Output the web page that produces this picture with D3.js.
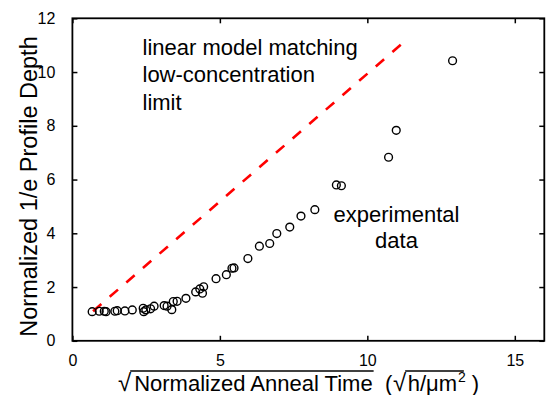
<!DOCTYPE html>
<html>
<head>
<meta charset="utf-8">
<script src="https://cdn.jsdelivr.net/npm/d3@7"></script>
<style>
  html, body { margin: 0; padding: 0; background: #fff; }
  svg { display: block; font-family: "Liberation Sans", Arial, Helvetica, sans-serif; }
</style>
</head>
<body>
<svg id="chart" width="546" height="395"></svg>
<script>
// ---- data ----
const xTicks = [0, 5, 10, 15];
const yTicks = [0, 2, 4, 6, 8, 10, 12];
const expX = [0.67, 0.91, 1.08, 1.14, 1.44, 1.52, 1.78, 2.03, 2.40, 2.42, 2.49, 2.65, 2.77,
              3.11, 3.21, 3.37, 3.42, 3.55, 3.85, 4.18, 4.32, 4.41, 4.45, 4.87, 5.22, 5.41,
              5.48, 5.95, 6.34, 6.69, 6.93, 7.37, 7.75, 8.22, 8.95, 9.12, 10.72, 10.98, 12.89];
const expY = [1.085, 1.10, 1.10, 1.085, 1.10, 1.12, 1.11, 1.15, 1.21, 1.085, 1.15, 1.19, 1.29,
              1.31, 1.29, 1.16, 1.46, 1.47, 1.58, 1.82, 1.93, 1.77, 2.01, 2.31, 2.46, 2.70,
              2.71, 3.06, 3.52, 3.62, 3.99, 4.23, 4.64, 4.88, 5.80, 5.77, 6.83, 7.83, 10.42];
const modelX = [0.7, 11.15];
const modelY = [1.1, 11.03];
const annotModel = ["linear model matching", "low-concentration", "limit"];
const annotExp = ["experimental", "data"];

// ---- layout ----
const L = 72.4, R = 544.3, T = 18.3, B = 340.8;
const svg = d3.select("#chart");
const x = d3.scaleLinear().domain([0, 16]).range([L, R]);
const y = d3.scaleLinear().domain([0, 12]).range([B, T]);

function styleAxis(g) {
  g.select(".domain").remove();
  g.selectAll(".tick line").attr("stroke", "#000").attr("stroke-width", 1.5);
  g.selectAll(".tick text").attr("fill", "#000").style("font-size", "16px")
    .style("font-family", "'Liberation Sans', Arial, Helvetica, sans-serif");
}
svg.append("g").attr("transform", `translate(0,${B})`)
  .call(d3.axisBottom(x).tickValues(xTicks).tickSize(-5).tickPadding(13.5).tickFormat(d3.format("d")))
  .call(styleAxis);
svg.append("g").attr("transform", `translate(0,${T})`)
  .call(d3.axisTop(x).tickValues(xTicks).tickSize(-5).tickFormat(""))
  .call(styleAxis);
svg.append("g").attr("transform", `translate(${L},0)`)
  .call(d3.axisLeft(y).tickValues(yTicks).tickSize(-5).tickPadding(17).tickFormat(d3.format("d")))
  .call(styleAxis);
svg.append("g").attr("transform", `translate(${R},0)`)
  .call(d3.axisRight(y).tickValues(yTicks).tickSize(-5).tickFormat(""))
  .call(styleAxis);

svg.append("rect").attr("x", L).attr("y", T).attr("width", R - L).attr("height", B - T)
  .attr("fill", "none").attr("stroke", "#000").attr("stroke-width", 1.8);

// model line
const pts = modelX.map((v, i) => [v, modelY[i]]);
svg.append("path")
  .attr("d", d3.line().x(d => x(d[0])).y(d => y(d[1]))(pts))
  .attr("fill", "none").attr("stroke", "#ff0000").attr("stroke-width", 2.6)
  .attr("stroke-dasharray", "11,11");

// experimental points
svg.append("g").selectAll("circle").data(expX.map((v, i) => [v, expY[i]])).join("circle")
  .attr("cx", d => x(d[0])).attr("cy", d => y(d[1])).attr("r", 3.9)
  .attr("fill", "none").attr("stroke", "#000").attr("stroke-width", 1.4);

// annotations
svg.append("g").selectAll("text").data(annotModel).join("text")
  .attr("x", 142.5).attr("y", (d, i) => 55 + i * 27.3)
  .style("font-size", "22px").attr("fill", "#000").text(d => d);
svg.append("g").selectAll("text").data(annotExp).join("text")
  .attr("x", 396.5).attr("y", (d, i) => 221.5 + i * 26.5).attr("text-anchor", "middle")
  .style("font-size", "22px").attr("fill", "#000").text(d => d);

// y label
svg.append("text").attr("transform", "translate(37,186.5) rotate(-90)")
  .attr("text-anchor", "middle").style("font-size", "23.5px").attr("fill", "#000")
  .text("Normalized 1/e Profile Depth");

// x label with radical signs and overlines
const xl = svg.append("g");
const base = 391, fs = 22;
function piece(x0, str, size, dy) {
  const t = xl.append("text").attr("x", x0).attr("y", base + (dy || 0))
    .style("font-size", size + "px").attr("fill", "#000").text(str);
  return [x0, x0 + t.node().getComputedTextLength()];
}
function overline(x0, x1) {
  xl.append("line").attr("x1", x0).attr("x2", x1).attr("y1", 371).attr("y2", 371)
    .attr("stroke", "#000").attr("stroke-width", 1.4);
}
const r1 = piece(118, "√", 24);
const a1 = piece(r1[1] + 3, "Normalized Anneal Time", fs);
overline(r1[1] - 1, a1[1] + 1);
piece(385, "(", fs);
const r2 = piece(393, "√", 24);
const a2 = piece(r2[1] + 1.5, "h/μm", fs);
const a3 = piece(a2[1] + 1, "2", 14, -9);
overline(r2[1] - 1, a3[1] - 2);
piece(a3[1] + 6, ")", fs);
</script>
</body>
</html>
